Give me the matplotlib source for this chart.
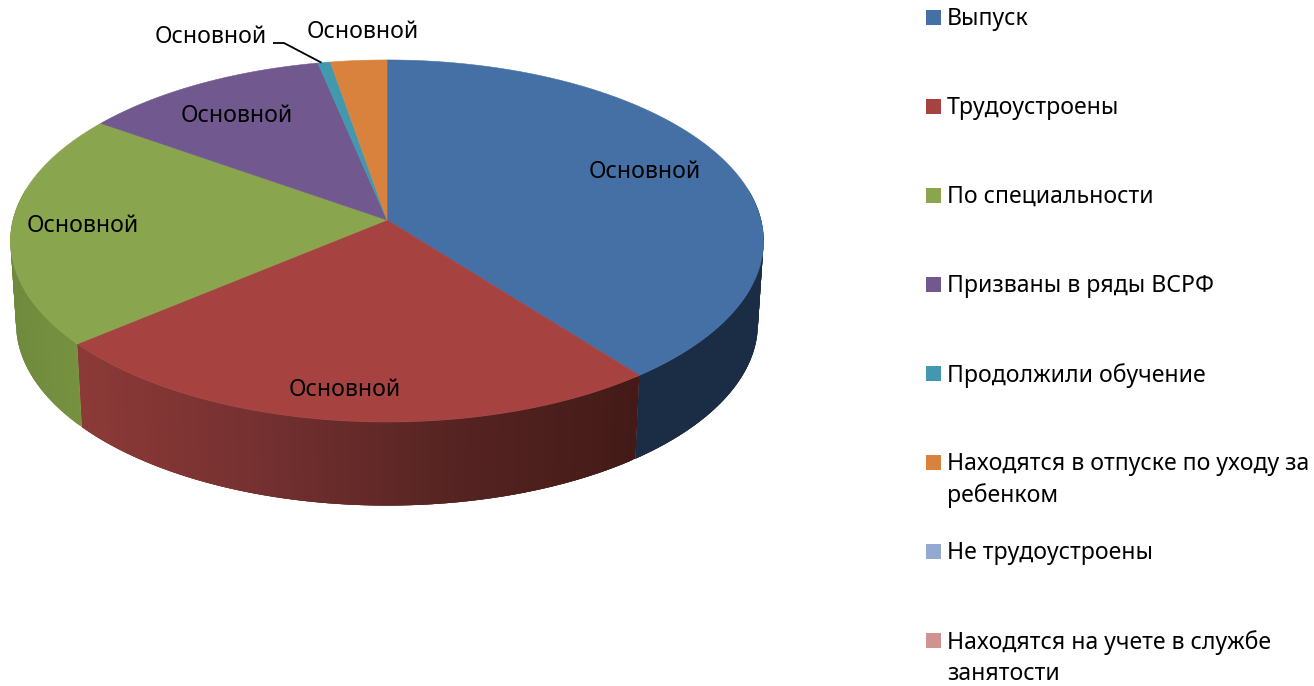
import numpy as np
import matplotlib
matplotlib.use("Agg")
import matplotlib.pyplot as plt
from matplotlib.colors import to_rgb
from matplotlib.patches import Rectangle

plt.rcParams["font.family"] = ["Noto Sans", "DejaVu Sans"]

# Slices (share of the circle, %)
categories = ["Выпуск", "Трудоустроены", "По специальности", "Призваны в ряды ВСРФ",
              "Продолжили обучение", "Находятся в отпуске по уходу за\nребенком",
              "Не трудоустроены", "Находятся на учете в службе\nзанятости"]
values = [39.5, 24.4, 20.9, 11.9, 0.6, 2.7, 0.0, 0.0]
slice_labels = ["Основной"] * 6
colors = ["#4570A6", "#A64341", "#89A54E", "#71588F", "#4198AF", "#D8823D", "#93A9CF", "#D19392"]
# Side wall colours of each slice, evenly spaced from its left end to its right end
wall_colors = [["#1A2D45", "#1A2D45"],
               ["#8C3A37", "#743030", "#562422", "#431A17"],
               ["#6F8A3E", "#76923F"],
               ["#5A4672", "#5A4672"],
               ["#33798C", "#33798C"],
               ["#AD6830", "#AD6830"]]

# Geometry of the tilted disc, in pixels
CX, CY = 387.0, 220.0
A, B, K = 178.6, 374.0, 0.116
DEPTH, SHRINK_X, STRETCH_Y = 82.5, 0.985, 1.005


def project(theta, bottom=False):
    # theta in degrees clockwise from the top of the disc
    t = np.radians(theta)
    den = 1 + K * np.cos(t)
    x = B * np.sin(t) / den
    y = A * np.cos(t) / den
    if bottom:
        return CX + SHRINK_X * x, CY + DEPTH - STRETCH_Y * y
    return CX + x, CY - y


fig = plt.figure(figsize=(13.14, 6.86), dpi=100)
ax = fig.add_axes([0, 0, 1, 1])
ax.set_xlim(0, 1314)
ax.set_ylim(686, 0)
ax.axis("off")

edges = 3.6 * np.concatenate(([0], np.cumsum(values)))

# Side walls, only the part that faces the viewer. Each strip runs under the next one
# so no seams show between them
for i in range(6):
    start = max(edges[i], 80)
    stop = min(edges[i + 1], 280)
    if stop <= start:
        continue
    th = np.linspace(start, stop, int((stop - start) * 2) + 2)
    xt, yt = project(th)
    xb, yb = project(th, bottom=True)
    stops = np.array([to_rgb(c) for c in wall_colors[i]])
    pos = np.linspace(0, 1, len(stops))
    span = max(xt.max() - xt.min(), 1)
    for j in range(len(th) - 1):
        k = min(j + 3, len(th) - 1)
        f = (0.5 * (xt[j] + xt[j + 1]) - xt.min()) / span
        c = [np.interp(f, pos, stops[:, n]) for n in range(3)]
        ax.fill(np.r_[xt[j:k + 1], xb[j:k + 1][::-1]], np.r_[yt[j:k + 1], yb[j:k + 1][::-1]],
                facecolor=c, edgecolor="none")

# Top face
for i in range(6):
    th = np.linspace(edges[i], edges[i + 1], 200)
    x, y = project(th)
    ax.fill(np.r_[CX, x], np.r_[CY, y], facecolor=colors[i], edgecolor=colors[i], linewidth=0.4)

# Data labels
label_x = [645, 345, 83, 237, 211, 363]
label_y = [172, 390, 226, 116, 37, 32]
for lab, lx, ly in zip(slice_labels, label_x, label_y):
    ax.text(lx, ly, lab, fontsize=16.6, color="black", ha="center", va="center")

# Leader line for the thin slice
tx, ty = project(edges[4] + 0.3 * (edges[5] - edges[4]))
ax.plot([273, 284, tx], [43, 43, ty], color="black", lw=1.3, solid_capstyle="butt")

# Legend
legend_y = [17, 106, 195, 284, 373, 462, 551, 640]
for name, col, ly in zip(categories, colors, legend_y):
    ax.add_patch(Rectangle((926, ly - 7.5), 15, 15, facecolor=col, edgecolor="none"))
    ax.text(947, ly - 10, name, fontsize=16.6, color="black", ha="left", va="top", linespacing=1.37)

fig.savefig("out.png", dpi=100)
